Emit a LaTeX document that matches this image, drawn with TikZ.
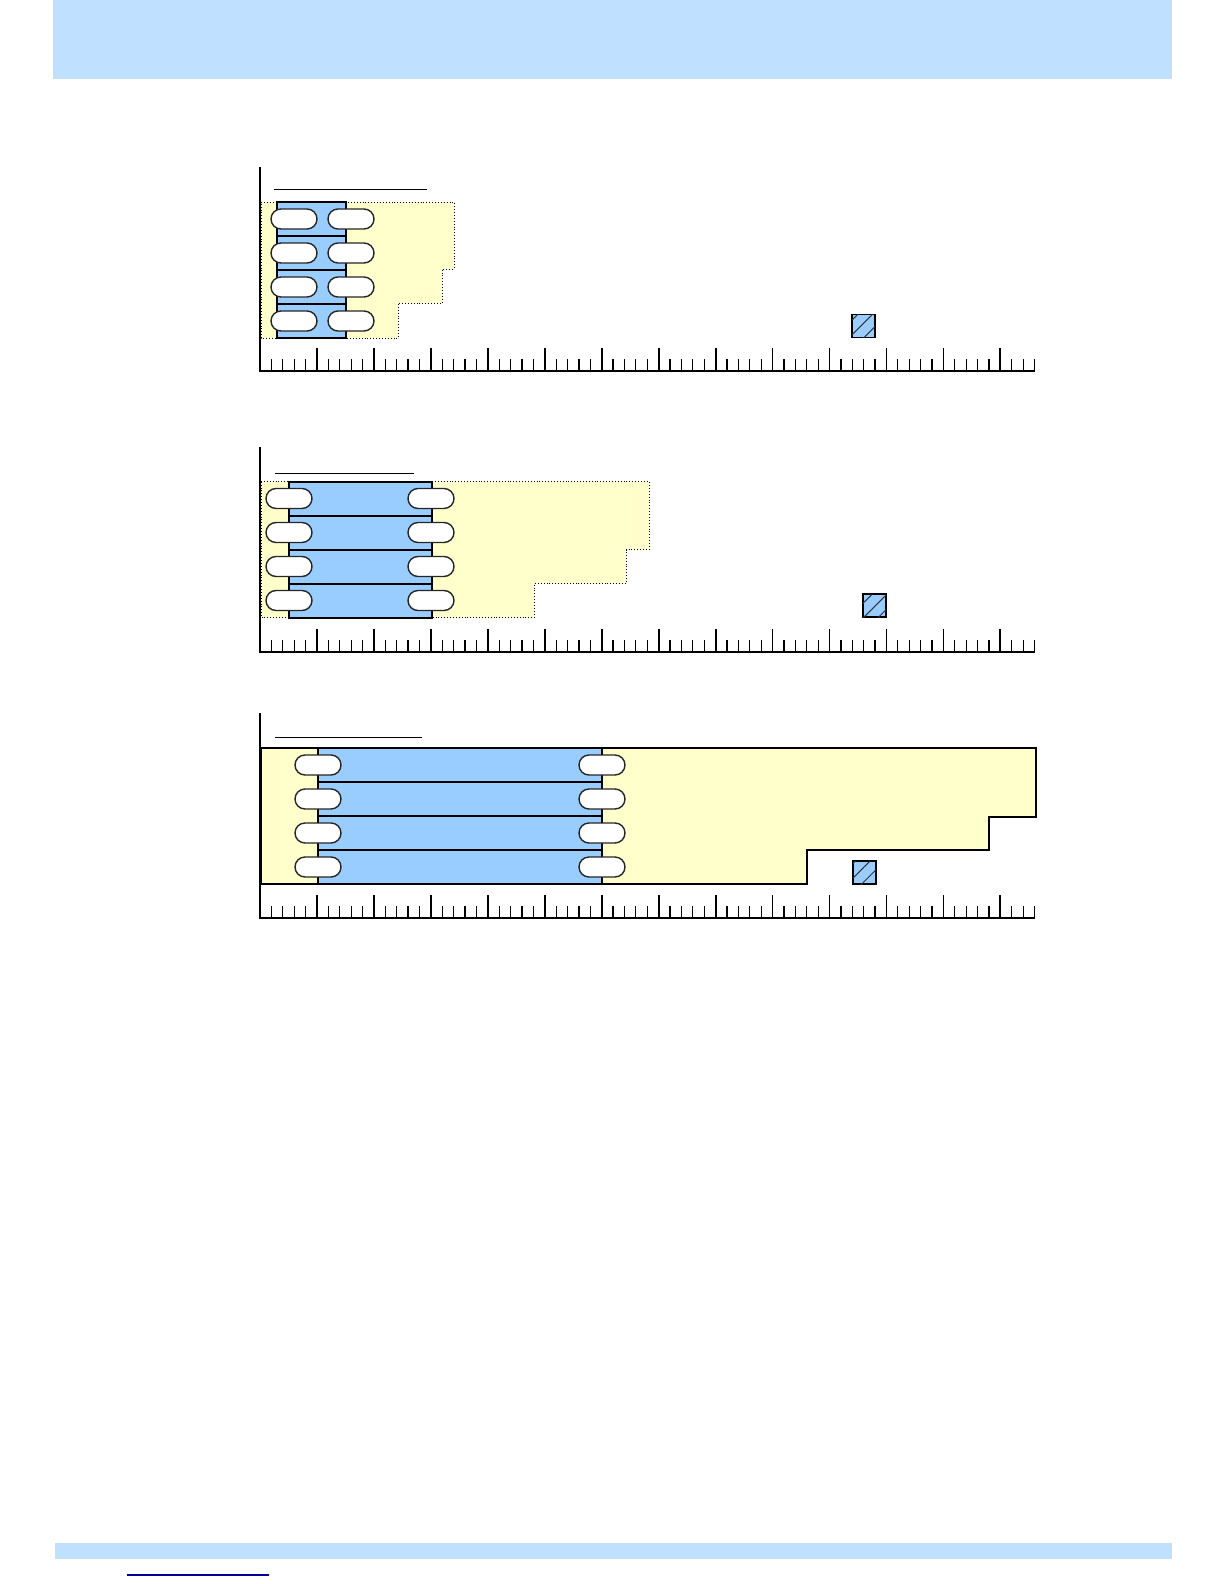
\documentclass[tikz,border=0pt]{standalone}
\usetikzlibrary{patterns.meta}
\definecolor{bandblue}{RGB}{191,225,255}
\definecolor{trayblue}{RGB}{153,204,255}
\definecolor{padyellow}{RGB}{255,255,204}
\definecolor{linkblue}{RGB}{0,0,153}
\tikzset{
  band/.style    ={fill=bandblue, draw=none},
  pad/.style     ={fill=padyellow, draw=black, line width=0.45pt, densely dotted},
  padsolid/.style={pad, solid, line width=0.55pt},
  tray/.style    ={fill=trayblue, draw=black, line width=1pt},
  oval/.style    ={rectangle, rounded corners=5pt, draw=black!85, fill=white,
                   line width=0.7pt, minimum width=23pt, minimum height=10pt, inner sep=0pt},
  marker/.style  ={rectangle, draw=black, line width=0.9pt, fill=trayblue,
                   minimum size=11.5pt, inner sep=0pt,
                   postaction={pattern={Lines[angle=45,distance=5.2pt,line width=0.5pt]},
                               pattern color=black!80}},
  titleline/.style={draw=black, line width=0.5pt},
  rulerline/.style={draw=black, line width=0.6pt},
}

\begin{document}
\begin{tikzpicture}[x=0.5pt, y=-0.5pt]
\useasboundingbox (0,0) rectangle (1224,1584);

% ---- page bands ----
\fill[band] (53,0) rectangle (1172,79);
\fill[band] (55,1543) rectangle (1172,1559);
\draw[linkblue, line width=0.6pt] (127,1575) -- (269,1575);

% ---- panel 1 ----
\draw[pad] (261,202) -- (454,202) -- (454,269) -- (442,269) -- (442,303)
  -- (398,303) -- (398,338) -- (261,338) -- cycle;
\foreach \r in {0,...,3}
  \draw[tray] (277,{202+34*\r}) rectangle (346,{236+34*\r});
\foreach \r in {0,...,3} {
  \node[oval] (p1l\r) at (294,{219+34*\r}) {};
  \node[oval] (p1r\r) at (351,{219+34*\r}) {};
}
\node[marker] (m1) at (863.5,326) {};
\draw[titleline] (274,189) -- (427,189);

% ---- panel 2 ----
\draw[pad] (261,481.5) -- (649,481.5) -- (649,549.5) -- (626,549.5) -- (626,583.5)
  -- (534,583.5) -- (534,617.5) -- (261,617.5) -- cycle;
\foreach \r in {0,...,3}
  \draw[tray] (289,{481.5+34*\r}) rectangle (432,{515.5+34*\r});
\foreach \r in {0,...,3} {
  \node[oval] (p2l\r) at (289,{498.5+34*\r}) {};
  \node[oval] (p2r\r) at (431,{498.5+34*\r}) {};
}
\node[marker] (m2) at (874.5,605.5) {};
\draw[titleline] (275,473) -- (414,473);

% ---- panel 3 ----
\draw[padsolid] (261,748) -- (1036,748) -- (1036,817) -- (989,817) -- (989,850)
  -- (807,850) -- (807,884) -- (261,884) -- cycle;
\foreach \r in {0,...,3}
  \draw[tray] (318,{748+34*\r}) rectangle (602,{782+34*\r});
\foreach \r in {0,...,3} {
  \node[oval] (p3l\r) at (318,{765+34*\r}) {};
  \node[oval] (p3r\r) at (602,{765+34*\r}) {};
}
\node[marker] (m3) at (864.5,872.5) {};
\draw[titleline] (275,737) -- (422,737);

% ---- axes and rulers ----
\foreach \base/\top in {371/167, 652/447, 918/713} {
  \draw[rulerline] (260,\top) -- (260,\base) -- (1035,\base);
  \foreach \k in {1,...,68} {
    \pgfmathsetmacro\len{mod(\k,5)==0 ? 23 : 12}
    \pgfmathsetmacro\lw{mod(\k,5)==0 ? 0.9 : 0.6}
    \draw[black, line width=\lw pt] ({260+\k*11.39},\base) -- ++(0,-\len);
  }
}

\end{tikzpicture}
\end{document}
